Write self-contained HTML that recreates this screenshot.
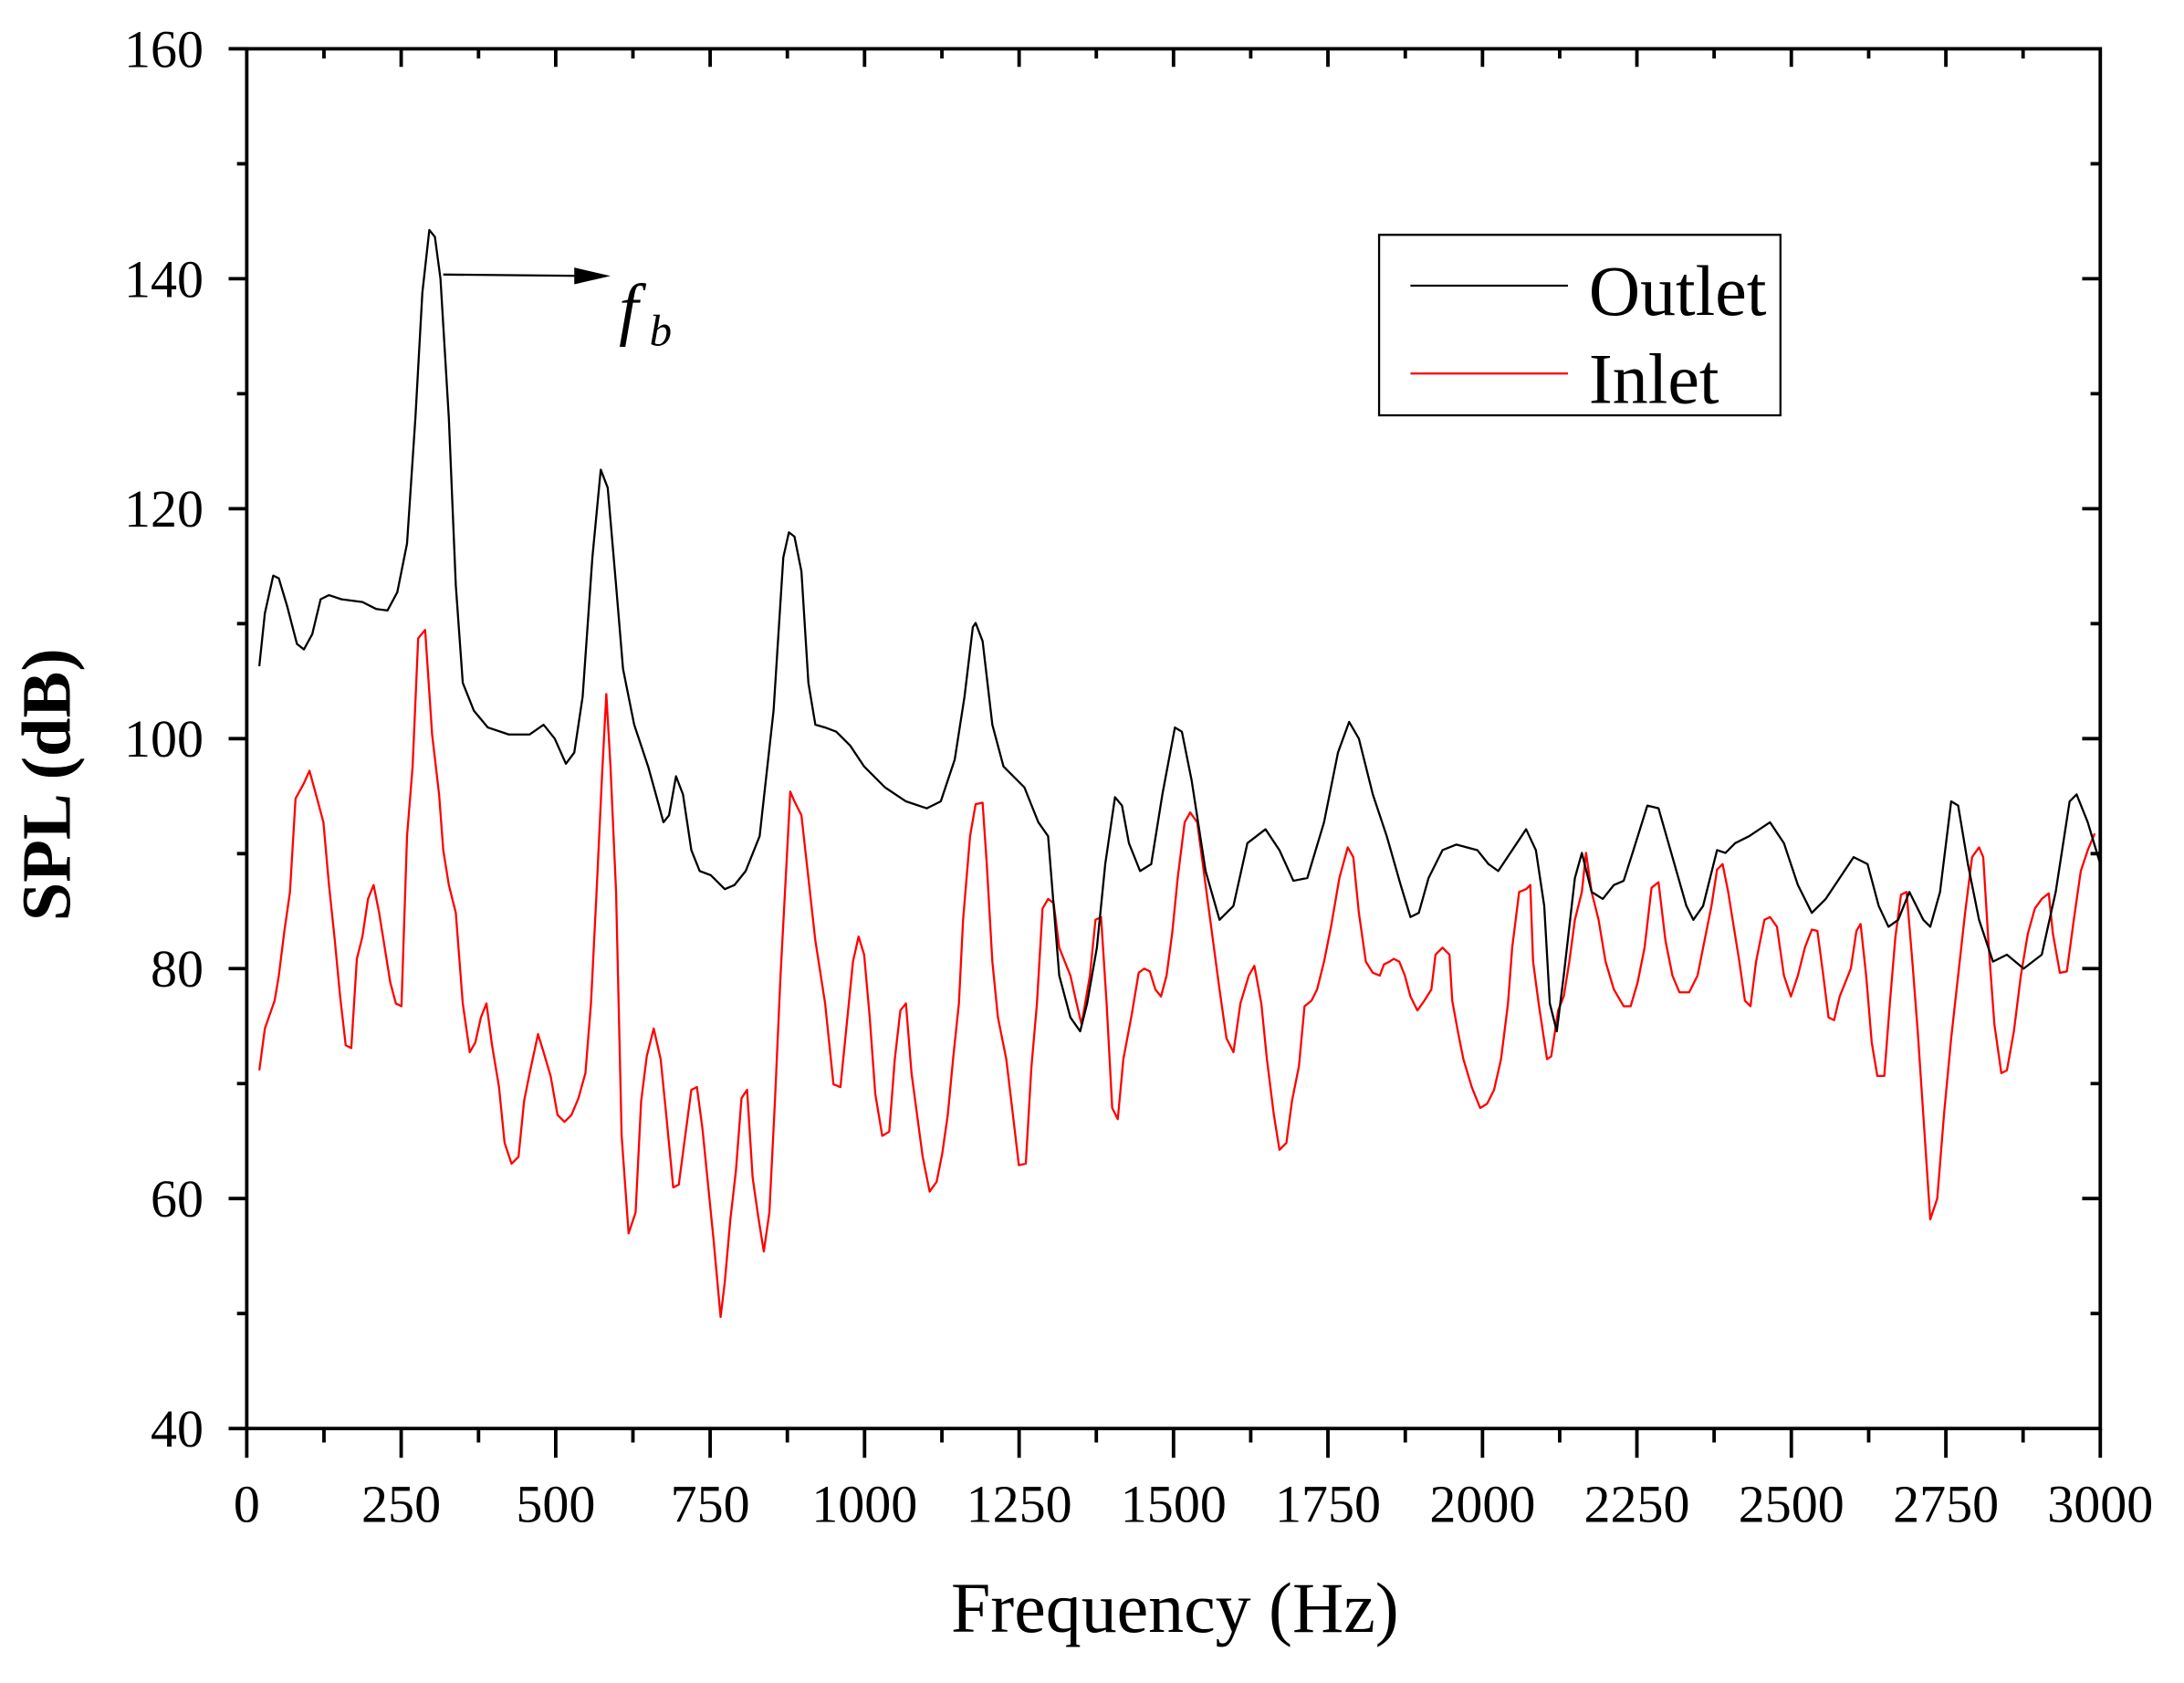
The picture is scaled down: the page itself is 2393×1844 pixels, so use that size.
<!DOCTYPE html>
<html><head><style>html,body{margin:0;padding:0;background:#fff}svg{display:block}</style></head>
<body>
<svg width="2393" height="1844" viewBox="0 0 1567 1207.6" xmlns="http://www.w3.org/2000/svg" font-family="Liberation Serif, serif">
<rect x="0" y="0" width="1567" height="1208" fill="#fff"/>
<g stroke="#000" stroke-width="2.5" fill="none">
<rect x="177" y="35" width="1330" height="990"/>
</g>
<g stroke="#000" stroke-width="2.5">
<path d="M164,35H177M164,200H177M164,365H177M164,530H177M164,695H177M164,860H177M164,1025H177"/>
<path d="M1494,200H1507M1494,365H1507M1494,530H1507M1494,695H1507M1494,860H1507"/>
<path d="M170,117.5H177M170,282.5H177M170,447.5H177M170,612.5H177M170,777.5H177M170,942.5H177"/>
<path d="M1500,117.5H1507M1500,282.5H1507M1500,447.5H1507M1500,612.5H1507M1500,777.5H1507M1500,942.5H1507"/>
<path d="M177,1025V1046M287.8,1025V1046M398.7,1025V1046M509.5,1025V1046M620.3,1025V1046M731.2,1025V1046M842,1025V1046M952.8,1025V1046M1063.7,1025V1046M1174.5,1025V1046M1285.3,1025V1046M1396.2,1025V1046M1507,1025V1046"/>
<path d="M287.8,35V48M398.7,35V48M509.5,35V48M620.3,35V48M731.2,35V48M842,35V48M952.8,35V48M1063.7,35V48M1174.5,35V48M1285.3,35V48M1396.2,35V48"/>
<path d="M232.4,1025V1035M343.3,1025V1035M454.1,1025V1035M564.9,1025V1035M675.8,1025V1035M786.6,1025V1035M897.4,1025V1035M1008.3,1025V1035M1119.1,1025V1035M1229.9,1025V1035M1340.8,1025V1035M1451.6,1025V1035"/>
<path d="M232.4,35V42M343.3,35V42M454.1,35V42M564.9,35V42M675.8,35V42M786.6,35V42M897.4,35V42M1008.3,35V42M1119.1,35V42M1229.9,35V42M1340.8,35V42M1451.6,35V42"/>
</g>
<g font-size="38" text-anchor="end" fill="#000">
<text x="146" y="48">160</text><text x="146" y="213">140</text><text x="146" y="378">120</text><text x="146" y="543">100</text><text x="146" y="708">80</text><text x="146" y="873">60</text><text x="146" y="1038">40</text>
</g>
<g font-size="38" text-anchor="middle" fill="#000">
<text x="177" y="1092">0</text><text x="287.8" y="1092">250</text><text x="398.7" y="1092">500</text><text x="509.5" y="1092">750</text><text x="620.3" y="1092">1000</text><text x="731.2" y="1092">1250</text><text x="842" y="1092">1500</text><text x="952.8" y="1092">1750</text><text x="1063.7" y="1092">2000</text><text x="1174.5" y="1092">2250</text><text x="1285.3" y="1092">2500</text><text x="1396.2" y="1092">2750</text><text x="1507" y="1092">3000</text>
</g>
<text x="843" y="1171" font-size="51" text-anchor="middle">Frequency (Hz)</text>
<text transform="translate(50,563) rotate(-90)" font-size="50" font-weight="bold" text-anchor="middle">SPL (dB)</text>
<polyline fill="none" stroke="#ff0000" stroke-width="1.5" stroke-linejoin="round" points="186,768 190,738 197,718 200,700 204,668 208,640 212,573 218,562 222,553 228,575 232,590 236,635 240,673 244,715 248,750 252,752 256,688 260,672 264,645 268,635 272,655 276,680 280,705 284,720 288,722 292,600 296,550 300,458 305,452 310,527 315,570 318,610 322,635 327,655 332,720 337,755 341,748 345,730 349,720 353,750 358,780 362,820 367,835 372,830 376,790 380,770 386,742 390,755 395,772 400,800 405,805 410,800 415,788 420,770 424,720 428,640 432,555 435,498 438,550 442,640 446,815 451,885 456,870 460,790 464,758 469,738 474,760 478,800 483,852 487,850 492,812 496,782 500,780 504,810 508,850 512,890 517,945 520,920 524,875 528,840 532,788 536,782 540,845 544,873 548,898 552,870 556,790 560,700 564,625 567,568 570,575 575,585 580,630 585,675 592,720 598,778 603,780 608,730 612,690 616,672 620,685 624,730 628,785 633,815 638,812 642,760 646,725 650,720 654,770 658,800 662,830 667,855 672,848 676,828 680,800 684,758 688,720 691,660 696,600 700,577 705,576 708,620 712,690 716,730 722,760 727,802 731,836 736,835 740,766 744,720 748,652 752,645 756,648 760,680 764,690 768,700 772,718 776,735 782,700 786,660 790,658 794,720 798,795 802,803 806,760 812,728 817,698 821,695 825,697 829,710 833,715 837,700 841,670 845,630 850,590 854,583 859,590 863,620 867,650 871,680 875,710 880,745 885,755 890,720 896,700 900,693 905,720 909,760 914,800 918,825 923,820 927,790 932,765 936,722 941,718 945,710 950,690 955,665 961,630 967,608 971,615 975,655 980,690 985,698 990,700 993,692 997,690 1000,688 1004,690 1008,700 1012,715 1017,725 1022,718 1027,710 1030,685 1035,680 1040,685 1042,718 1046,740 1050,760 1056,780 1062,795 1067,792 1072,782 1077,760 1082,720 1085,680 1090,640 1095,638 1098,635 1100,690 1104,720 1110,760 1113,758 1118,725 1122,715 1126,690 1130,660 1135,640 1138,612 1142,640 1147,660 1152,690 1158,710 1165,722 1170,722 1175,705 1180,680 1185,637 1190,633 1195,675 1200,700 1205,712 1212,712 1218,700 1222,680 1228,650 1232,624 1236,620 1240,640 1244,665 1248,690 1252,718 1256,722 1260,690 1266,660 1270,658 1275,665 1280,700 1285,715 1290,700 1295,680 1300,667 1304,668 1308,698 1312,730 1316,732 1320,715 1324,705 1328,695 1332,668 1335,663 1339,700 1343,748 1347,772 1352,772 1356,720 1360,672 1364,642 1368,640 1372,688 1376,740 1380,800 1385,875 1390,860 1395,798 1400,745 1405,700 1410,655 1415,615 1420,608 1423,615 1427,680 1431,735 1436,770 1440,768 1445,740 1450,700 1455,670 1460,652 1465,645 1470,641 1473,670 1478,698 1483,697 1488,660 1493,625 1498,610 1503,598"/>
<polyline fill="none" stroke="#000" stroke-width="1.5" stroke-linejoin="round" points="186,478 190,440 196,413 200,415 206,435 213,462 218,466 224,455 230,430 236,427 245,430 260,432 270,437 278,438 285,425 292,390 298,300 303,210 308,165 312,170 316,200 322,300 327,420 332,490 340,510 350,522 365,527 380,527 390,520 398,530 406,548 412,540 418,500 425,400 431,337 436,350 442,420 447,480 455,520 465,550 470,568 476,590 480,585 485,557 490,570 496,610 502,625 510,628 520,638 527,635 535,625 545,600 555,510 562,400 566,382 570,385 575,410 580,490 585,520 592,522 600,525 610,535 620,550 635,565 650,575 665,580 675,575 685,545 692,500 698,450 700,447 705,460 712,520 720,550 735,565 745,590 752,600 760,700 768,730 775,740 780,720 787,680 793,620 800,572 805,578 810,605 818,625 826,620 834,570 843,522 848,525 855,560 865,625 875,660 885,650 895,605 908,595 918,610 928,632 938,630 950,590 960,540 968,518 975,530 985,570 995,600 1005,635 1012,658 1018,655 1025,630 1035,610 1045,606 1060,610 1068,620 1075,625 1085,610 1095,595 1102,610 1108,650 1112,720 1117,740 1122,700 1130,630 1135,612 1142,640 1150,645 1158,635 1165,632 1172,610 1182,578 1190,580 1200,615 1210,650 1215,660 1222,650 1232,610 1238,612 1245,605 1255,600 1270,590 1280,605 1290,635 1300,655 1310,645 1320,630 1330,615 1340,620 1348,650 1355,665 1362,660 1370,640 1380,660 1385,665 1392,640 1400,575 1405,578 1412,620 1420,660 1430,690 1440,685 1452,695 1465,685 1475,640 1485,575 1490,570 1498,590 1507,620"/>
<line x1="318" y1="197" x2="422" y2="198" stroke="#000" stroke-width="1.5"/>
<polygon points="438,198 412,192 412,204" fill="#000"/>
<text x="444" y="238" font-size="50" font-style="italic">f</text>
<text x="466" y="248" font-size="32" font-style="italic">b</text>
<rect x="989.5" y="168.5" width="288" height="129.5" fill="#fff" stroke="#000" stroke-width="1.5"/>
<line x1="1012" y1="205" x2="1125" y2="205" stroke="#000" stroke-width="1.5"/>
<line x1="1012" y1="268" x2="1125" y2="268" stroke="#ff0000" stroke-width="1.5"/>
<text x="1140" y="226" font-size="51">Outlet</text>
<text x="1140" y="289" font-size="51">Inlet</text>
</svg>
</body></html>
